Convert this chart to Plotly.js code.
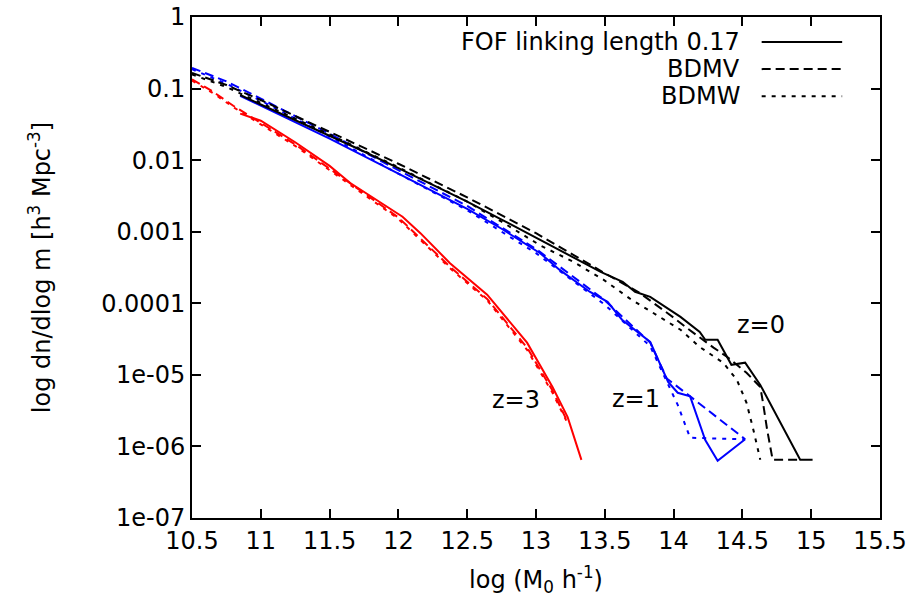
<!DOCTYPE html>
<html>
<head>
<meta charset="utf-8">
<script src="https://cdn.plot.ly/plotly-3.0.1.min.js"></script>
<style>html,body{margin:0;padding:0;background:#fff}#chart{width:909px;height:609px}</style>
</head>
<body>
<div id="chart"></div>
<script>
// ---- data (log mass, dn/dlog m) ----
const xFofZ0 = [10.85, 11.0, 11.25, 11.5, 11.75, 12.0, 12.25, 12.5, 12.75, 13.0, 13.25, 13.47, 13.63, 13.72, 13.83, 14.05, 14.19, 14.23, 14.32, 14.42, 14.52, 14.63, 14.92, 15.01];
const yFofZ0 = [8.13e-2, 6.03e-2, 3.63e-2, 2.19e-2, 1.32e-2, 7.76e-3, 4.57e-3, 2.63e-3, 1.48e-3, 8.32e-4, 4.68e-4, 2.75e-4, 2.00e-4, 1.45e-4, 1.23e-4, 6.46e-5, 3.98e-5, 3.09e-5, 3.09e-5, 1.38e-5, 1.48e-5, 7.24e-6, 6.5e-7, 6.5e-7];

const xBdmvZ0 = [10.5, 10.75, 11.0, 11.5, 12.0, 12.5, 13.0, 13.5, 13.75, 14.0, 14.1, 14.29, 14.39, 14.53, 14.63, 14.65, 14.68, 14.72, 14.92];
const yBdmvZ0 = [0.166, 0.112, 6.92e-2, 2.51e-2, 8.91e-3, 3.02e-3, 9.55e-4, 2.63e-4, 1.41e-4, 6.31e-5, 4.47e-5, 2.40e-5, 1.78e-5, 1.07e-5, 6.76e-6, 4.07e-6, 1.70e-6, 6.5e-7, 6.5e-7];

const xBdmwZ0 = [10.5, 10.75, 11.0, 11.5, 12.0, 12.5, 12.75, 13.03, 13.27, 13.49, 13.68, 13.90, 14.05, 14.19, 14.36, 14.46, 14.53, 14.58, 14.63];
const yBdmwZ0 = [0.158, 0.105, 6.31e-2, 2.29e-2, 7.94e-3, 2.63e-3, 1.38e-3, 6.46e-4, 3.80e-4, 2.14e-4, 1.17e-4, 6.46e-5, 4.27e-5, 2.45e-5, 1.48e-5, 8.51e-6, 4.07e-6, 1.70e-6, 6.5e-7];

const xFofZ1 = [10.85, 11.0, 11.5, 12.0, 12.5, 12.75, 13.03, 13.17, 13.39, 13.52, 13.625, 13.83, 13.865, 13.96, 14.03, 14.12, 14.23, 14.32, 14.52];
const yFofZ1 = [7.94e-2, 5.75e-2, 2.00e-2, 6.46e-3, 2.09e-3, 1.10e-3, 5.01e-4, 2.95e-4, 1.45e-4, 1.05e-4, 5.89e-5, 2.88e-5, 2.04e-5, 7.94e-6, 5.62e-6, 5.01e-6, 1.23e-6, 6.3e-7, 1.26e-6];

const xBdmvZ1 = [10.5, 10.75, 11.0, 11.5, 12.0, 12.5, 13.0, 13.5, 13.83, 13.95, 14.12, 14.52];
const yBdmvZ1 = [0.195, 0.126, 7.24e-2, 2.34e-2, 7.24e-3, 2.29e-3, 5.75e-4, 1.10e-4, 2.82e-5, 8.91e-6, 5.01e-6, 1.26e-6];

const xBdmwZ1 = [10.5, 10.75, 11.0, 11.5, 12.0, 12.5, 13.0, 13.5, 13.83, 14.03, 14.12, 14.52];
const yBdmwZ1 = [0.186, 0.117, 6.76e-2, 2.14e-2, 6.46e-3, 2.00e-3, 5.01e-4, 9.55e-5, 2.51e-5, 3.80e-6, 1.32e-6, 1.26e-6];

const xFofZ3 = [10.85, 11.0, 11.25, 11.5, 11.65, 12.03, 12.16, 12.375, 12.645, 12.935, 13.12, 13.23, 13.33];
const yFofZ3 = [4.47e-2, 3.55e-2, 1.78e-2, 8.32e-3, 4.79e-3, 1.62e-3, 9.55e-4, 3.63e-4, 1.32e-4, 2.82e-5, 6.76e-6, 2.57e-6, 6.5e-7];

const xBdmvZ3 = [10.5, 10.65, 10.8, 11.0, 11.25, 11.5, 12.0, 12.375, 12.645, 12.935, 13.12, 13.22];
const yBdmvZ3 = [0.135, 9.12e-2, 5.75e-2, 3.31e-2, 1.66e-2, 7.59e-3, 1.58e-3, 3.24e-4, 1.15e-4, 2.40e-5, 6.03e-6, 2.40e-6];

const xBdmwZ3 = [10.5, 10.65, 10.8, 11.0, 11.25, 11.5, 12.0, 12.375, 12.645, 12.935, 13.12, 13.22];
const yBdmwZ3 = [0.129, 8.71e-2, 5.50e-2, 3.16e-2, 1.58e-2, 7.24e-3, 1.51e-3, 3.09e-4, 1.10e-4, 2.24e-5, 5.62e-6, 2.29e-6];

const legendNames = ["FOF linking length 0.17", "BDMV", "BDMW"];
const yTickVals = [1, 0.1, 0.01, 0.001, 0.0001, 1e-5, 1e-6, 1e-7];
const yTickText = ["1", "0.1", "0.01", "0.001", "0.0001", "1e-05", "1e-06", "1e-07"];
const xTickVals = [10.5, 11, 11.5, 12, 12.5, 13, 13.5, 14, 14.5, 15, 15.5];
const xTickText = ["10.5", "11", "11.5", "12", "12.5", "13", "13.5", "14", "14.5", "15", "15.5"];
const zLabels = [{t: "z=0", x: 14.635, y: 5.0e-5}, {t: "z=1", x: 13.73, y: 4.6e-6}, {t: "z=3", x: 12.855, y: 4.4e-6}];

// ---- styles ----
const dashes = ["solid", "9px,5px", "4px,6px"];
const W = 2;
function tr(x, y, color, dash) {
  return {x: x, y: y, type: "scatter", mode: "lines", showlegend: false,
          line: {color: color, width: W, dash: dash}, hoverinfo: "skip"};
}
const traces = [
  tr(xFofZ3, yFofZ3, "#ff0000", dashes[0]),
  tr(xBdmvZ3, yBdmvZ3, "#ff0000", dashes[1]),
  tr(xBdmwZ3, yBdmwZ3, "#ff0000", dashes[2]),
  tr(xFofZ1, yFofZ1, "#0000ff", dashes[0]),
  tr(xBdmvZ1, yBdmvZ1, "#0000ff", dashes[1]),
  tr(xBdmwZ1, yBdmwZ1, "#0000ff", dashes[2]),
  tr(xFofZ0, yFofZ0, "#000000", dashes[0]),
  tr(xBdmvZ0, yBdmvZ0, "#000000", dashes[1]),
  tr(xBdmwZ0, yBdmwZ0, "#000000", dashes[2])
];

const FONT = "DejaVu Sans, Liberation Sans, Arial, sans-serif";
const FS = 24;
const annotations = zLabels.map(z => ({x: z.x, y: Math.log10(z.y), xref: "x", yref: "y", text: z.t,
  showarrow: false, font: {family: FONT, size: FS, color: "#000"}}));
const shapes = [];
const legY = [0.950, 0.896, 0.842];
legendNames.forEach((n, i) => {
  annotations.push({xref: "paper", yref: "paper", x: 0.800, y: legY[i], xanchor: "right", yanchor: "middle",
    text: n, showarrow: false, font: {family: FONT, size: FS, color: "#000"}});
  shapes.push({type: "line", xref: "paper", yref: "paper", x0: 0.828, x1: 0.945, y0: legY[i], y1: legY[i],
    line: {color: "#000", width: W, dash: dashes[i]}});
});

const axisCommon = {showline: true, mirror: "ticks", linecolor: "#000", linewidth: 2, ticks: "inside",
  ticklen: 9, tickwidth: 2, tickcolor: "#000", showgrid: false, zeroline: false,
  tickfont: {family: FONT, size: FS, color: "#000"}};

const layout = {
  width: 909, height: 609,
  margin: {l: 192, r: 29, t: 17, b: 91},
  paper_bgcolor: "#fff", plot_bgcolor: "#fff",
  xaxis: Object.assign({}, axisCommon, {range: [10.5, 15.5], tickmode: "array", tickvals: xTickVals, ticktext: xTickText,
    title: {text: "log (M<sub>0</sub> h<sup>-1</sup>)", font: {family: FONT, size: FS, color: "#000"}, standoff: 17}}),
  yaxis: Object.assign({}, axisCommon, {type: "log", range: [-7, 0], tickmode: "array", tickvals: yTickVals, ticktext: yTickText,
    title: {text: "log dn/dlog m [h<sup>3</sup> Mpc<sup>-3</sup>]", font: {family: FONT, size: FS, color: "#000"}, standoff: 44}}),
  annotations: annotations,
  shapes: shapes,
  showlegend: false
};

Plotly.newPlot("chart", traces, layout, {staticPlot: true, displayModeBar: false});
</script>
</body>
</html>
